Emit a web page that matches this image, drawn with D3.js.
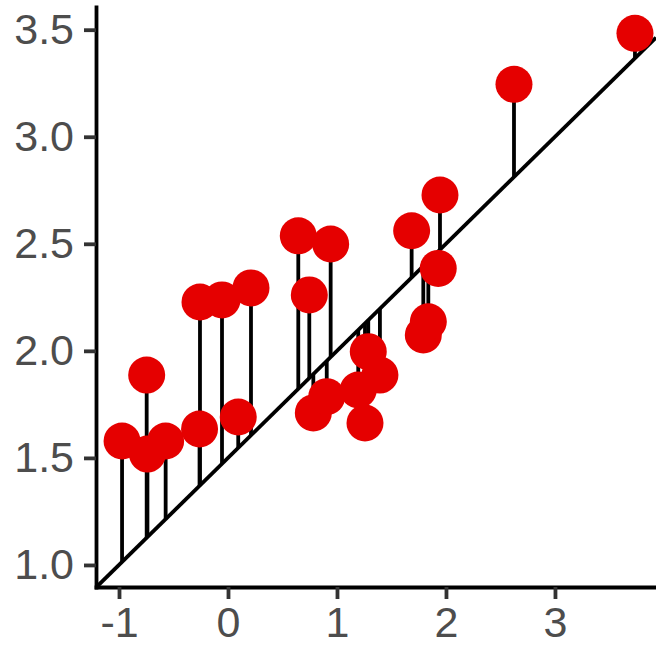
<!DOCTYPE html>
<html>
<head>
<meta charset="utf-8">
<script src="https://cdn.jsdelivr.net/npm/d3@7"></script>
<style>
  html, body { margin: 0; padding: 0; background: #fff; }
  svg { display: block; }
</style>
</head>
<body>
<script>
// ---- data ----
const xValues = [-0.972, -0.746, -0.739, -0.572, -0.257, -0.261, -0.055, 0.094, 0.211, 0.645,
                 0.746, 0.942, 0.783, 0.906, 1.195, 1.287, 1.394, 1.257, 1.685, 1.792,
                 1.838, 1.929, 1.945, 2.624, 3.734];
const yValues = [1.579, 1.887, 1.518, 1.579, 2.228, 1.635, 2.238, 1.691, 2.294, 2.537,
                 2.261, 2.499, 1.710, 1.786, 1.817, 1.996, 1.887, 1.663, 2.561, 2.074,
                 2.136, 2.385, 2.728, 3.245, 3.483];
const lineIntercept = 1.5;
const lineSlope = 0.5;
const xTicks = [-1, 0, 1, 2, 3];
const xTickLabels = ["-1", "0", "1", "2", "3"];
const yTicks = [1.0, 1.5, 2.0, 2.5, 3.0, 3.5];
const yTickLabels = ["1.0", "1.5", "2.0", "2.5", "3.0", "3.5"];
const xDomain = [-1.211, 3.927];
const yDomain = [0.897, 3.606];

// ---- layout ----
const W = 656, H = 648;
const mLeft = 96, mRight = 656, mTop = 7, mBottom = 587;

const svg = d3.select("body").append("svg").attr("width", W).attr("height", H);

const x = d3.scaleLinear().domain(xDomain).range([mLeft, mRight]);
const y = d3.scaleLinear().domain(yDomain).range([mBottom, mTop]);

svg.append("defs").append("clipPath").attr("id", "panel")
  .append("rect").attr("x", mLeft).attr("y", mTop).attr("width", mRight - mLeft).attr("height", mBottom - mTop);

const panel = svg.append("g").attr("clip-path", "url(#panel)");

const pts = xValues.map((v, i) => ({ x: v, y: yValues[i] }));
const lw = 3.8;

// reference line
panel.append("line")
  .attr("x1", x(xDomain[0])).attr("y1", y(lineIntercept + lineSlope * xDomain[0]))
  .attr("x2", x(xDomain[1])).attr("y2", y(lineIntercept + lineSlope * xDomain[1]))
  .attr("stroke", "#000").attr("stroke-width", lw);

// residual segments
panel.selectAll("line.seg").data(pts).enter().append("line")
  .attr("class", "seg")
  .attr("x1", d => x(d.x)).attr("x2", d => x(d.x))
  .attr("y1", d => y(d.y)).attr("y2", d => y(lineIntercept + lineSlope * d.x))
  .attr("stroke", "#000").attr("stroke-width", lw);

// points
svg.append("g").selectAll("circle").data(pts).enter().append("circle")
  .attr("cx", d => x(d.x)).attr("cy", d => y(d.y)).attr("r", 18.5)
  .attr("fill", "#e50000");

// axes
const fontFam = "Liberation Sans, Arial, Helvetica, sans-serif";
const gx = svg.append("g").attr("transform", `translate(0,${mBottom})`)
  .call(d3.axisBottom(x).tickValues(xTicks).tickFormat((d, i) => xTickLabels[i])
        .tickSize(12).tickSizeOuter(0).tickPadding(7));
const gy = svg.append("g").attr("transform", `translate(${mLeft},0)`)
  .call(d3.axisLeft(y).tickValues(yTicks).tickFormat((d, i) => yTickLabels[i])
        .tickSize(12).tickSizeOuter(0).tickPadding(10));

[gx, gy].forEach(g => {
  g.select(".domain").attr("stroke", "#000").attr("stroke-width", lw).attr("stroke-linecap", "square");
  g.selectAll(".tick line").attr("stroke", "#333").attr("stroke-width", lw);
  g.selectAll(".tick text").attr("fill", "#4d4d4d")
    .style("font-family", fontFam).style("font-size", "43px");
});
</script>
</body>
</html>
